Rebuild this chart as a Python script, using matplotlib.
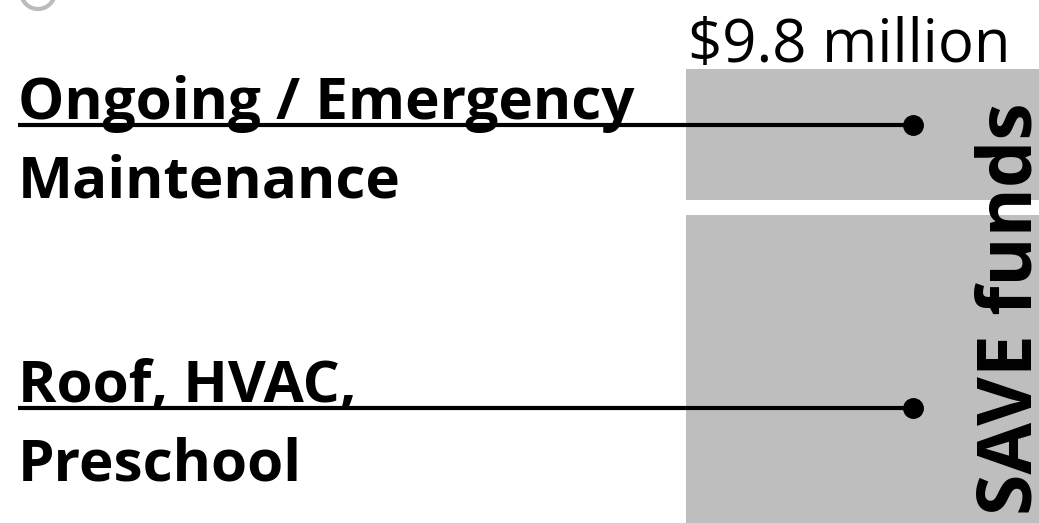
import matplotlib
matplotlib.use("Agg")
import matplotlib.pyplot as plt
from matplotlib.patches import Ellipse

# ---- data ----
categories = ["Ongoing / Emergency\nMaintenance", "Roof, HVAC,\nPreschool"]
values = [3.0, 6.8]            # $ millions
total_label = "$9.8 million"
bar_label = "SAVE funds"
marker_pos = [1.21, 7.32]      # where each leader line meets the bar ($M)

# ---- style ----
W, H = 1039, 523
fig = plt.figure(figsize=(W / 100, H / 100), dpi=100)
ax = fig.add_axes([0, 0, 1, 1])
ax.set_xlim(0, W)
px_per_m = (H - 69) / sum(values)
ax.set_ylim(sum(values), -69 / px_per_m)
ax.axis("off")

grey = "#bebebe"
gap = 15 / px_per_m
bar_left, bar_w = 686, 420

bottom = 0.0
n = len(values)
for i, v in enumerate(values):
    start = bottom + (gap / 2 if i > 0 else 0)
    end = bottom + v - (gap / 2 if i < n - 1 else 0)
    ax.bar(bar_left, end - start, bottom=start, width=bar_w, align="edge",
           color=grey, edgecolor="none", zorder=1)
    bottom += v

fam = ["Open Sans", "DejaVu Sans"]
for cat, yv in zip(categories, marker_pos):
    ax.plot([18, 913], [yv, yv], color="black", lw=3.0, zorder=3,
            solid_capstyle="butt")
    ax.plot([913], [yv], "o", color="black", ms=14, zorder=4)
    first, second = cat.split("\n")
    ax.text(18, yv - 6 / px_per_m, first, fontsize=42, fontweight="bold",
            family=fam, va="baseline", ha="left", zorder=2)
    ax.text(18, yv + 72 / px_per_m, second, fontsize=42, fontweight="bold",
            family=fam, va="baseline", ha="left", zorder=2)

ax.text(688, -7 / px_per_m, total_label, fontsize=43, family=fam,
        va="baseline", ha="left")
ax.text(1031, sum(values) - 8 / px_per_m, bar_label, fontsize=54,
        fontweight="bold", family=fam, rotation=90, va="baseline", ha="left",
        rotation_mode="anchor", zorder=5)

# decorative ring in top-left corner
ax.add_patch(Ellipse((38, -77 / px_per_m), width=34, height=34 / px_per_m,
                     fill=False, edgecolor="#bbbbbb", lw=3))

fig.savefig("out.png", dpi=100)
